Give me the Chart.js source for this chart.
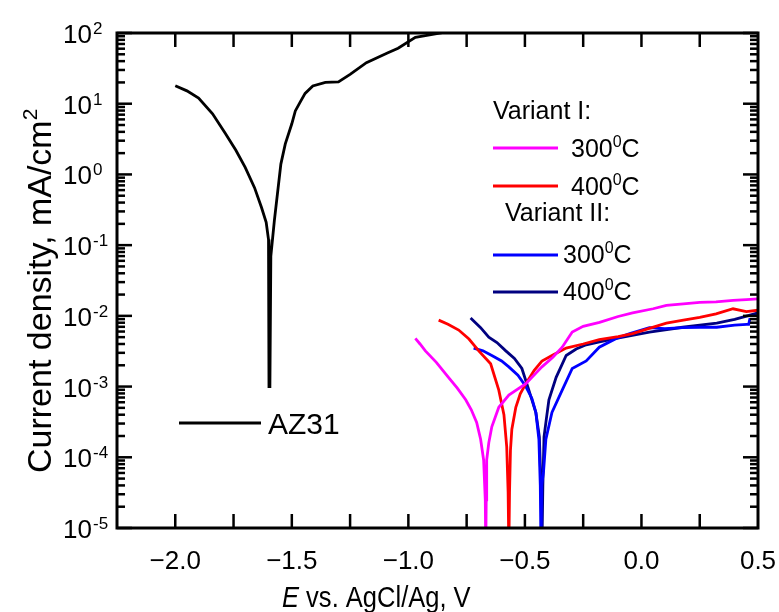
<!DOCTYPE html>
<html>
<head>
<meta charset="utf-8">
<script src="https://cdn.jsdelivr.net/npm/chart.js@4.4.0/dist/chart.umd.min.js"></script>
<style>
  body { margin: 0; background: #fff; }
  #wrap { width: 779px; height: 612px; }
</style>
</head>
<body>
<div id="wrap"><canvas id="chart" width="779" height="612"></canvas></div>
<script>
// potential, V vs AgCl/Ag  /  current density, mA/cm2
const xAz31 = [-2.0, -1.95, -1.90, -1.84, -1.785, -1.74, -1.70, -1.66, -1.63, -1.61, -1.600, -1.598, -1.594, -1.590, -1.575, -1.547, -1.528, -1.50, -1.485, -1.466, -1.443, -1.41, -1.356, -1.30, -1.25, -1.18, -1.09, -1.044, -0.97, -0.86, -0.83]
const yAz31 = [18, 15.2, 12, 7.2, 3.8, 2.2, 1.26, 0.65, 0.34, 0.21, 0.12, 0.001, 0.001, 0.07, 0.22, 1.4, 2.7, 5.2, 7.9, 10.3, 14, 17.8, 20, 20.4, 26, 38, 52, 61, 87, 100, 106]

const xV1_300 = [-0.97, -0.95, -0.927, -0.88, -0.828, -0.79, -0.754, -0.73, -0.707, -0.69, -0.677, -0.670, -0.668, -0.666, -0.664, -0.655, -0.642, -0.612, -0.569, -0.496, -0.427, -0.38, -0.34, -0.297, -0.25, -0.18, -0.10, -0.038, 0.05, 0.107, 0.18, 0.25, 0.32, 0.393, 0.45, 0.5]
const yV1_300 = [4.8e-3, 4.0e-3, 3.2e-3, 2.2e-3, 1.35e-3, 9.5e-4, 6.5e-4, 4.7e-4, 3.1e-4, 1.8e-4, 9.1e-5, 2.5e-5, 5e-6, 2.5e-5, 9.1e-5, 1.6e-4, 2.7e-4, 5.1e-4, 7.6e-4, 1.1e-3, 1.9e-3, 2.6e-3, 3.6e-3, 5.9e-3, 7.1e-3, 8.1e-3, 9.8e-3, 1.1e-2, 1.26e-2, 1.41e-2, 1.48e-2, 1.55e-2, 1.58e-2, 1.66e-2, 1.7e-2, 1.74e-2]

const xV1_400 = [-0.87, -0.83, -0.784, -0.74, -0.698, -0.647, -0.612, -0.59, -0.578, -0.572, -0.569, -0.566, -0.562, -0.556, -0.539, -0.52, -0.496, -0.46, -0.427, -0.38, -0.323, -0.25, -0.181, -0.10, -0.038, 0.03, 0.107, 0.18, 0.25, 0.32, 0.393, 0.45, 0.5]
const yV1_400 = [8.7e-3, 7.6e-3, 6.3e-3, 4.7e-3, 3.2e-3, 2.1e-3, 8.9e-4, 4.0e-4, 1.4e-4, 3.2e-5, 5e-6, 3.2e-5, 1.26e-4, 2.5e-4, 5.1e-4, 7.9e-4, 1.1e-3, 1.7e-3, 2.3e-3, 2.8e-3, 3.5e-3, 4.0e-3, 4.6e-3, 5.1e-3, 5.6e-3, 6.6e-3, 7.9e-3, 8.7e-3, 9.5e-3, 1.07e-2, 1.26e-2, 1.15e-2, 1.2e-2]

const xV2_300 = [-0.72, -0.68, -0.642, -0.60, -0.569, -0.53, -0.496, -0.47, -0.453, -0.44, -0.434, -0.431, -0.428, -0.42, -0.41, -0.384, -0.34, -0.297, -0.237, -0.181, -0.108, -0.05, 0.034, 0.10, 0.177, 0.25, 0.323, 0.40, 0.452, 0.46, 0.466]
const yV2_300 = [3.5e-3, 3.2e-3, 2.75e-3, 2.3e-3, 1.9e-3, 1.45e-3, 1.0e-3, 6.8e-4, 4.3e-4, 1.8e-4, 4.0e-5, 5e-6, 4.0e-5, 6.3e-5, 1.8e-4, 4.3e-4, 8.9e-4, 1.8e-3, 2.3e-3, 3.6e-3, 4.8e-3, 5.6e-3, 6.8e-3, 6.6e-3, 6.8e-3, 6.9e-3, 6.9e-3, 7.4e-3, 7.6e-3, 7.6e-3, 9.3e-3]

const xV2_400 = [-0.733, -0.69, -0.655, -0.62, -0.582, -0.545, -0.513, -0.483, -0.453, -0.438, -0.431, -0.427, -0.423, -0.418, -0.408, -0.397, -0.366, -0.323, -0.28, -0.237, -0.18, -0.108, 0.034, 0.177, 0.323, 0.40, 0.5]
const yV2_400 = [9.3e-3, 6.8e-3, 5.0e-3, 4.2e-3, 3.2e-3, 2.5e-3, 1.8e-3, 8.9e-4, 4.3e-4, 1.95e-4, 4.0e-5, 5e-6, 4.0e-5, 1.95e-4, 3.5e-4, 6.5e-4, 1.35e-3, 2.75e-3, 3.4e-3, 3.9e-3, 4.3e-3, 4.8e-3, 5.9e-3, 6.9e-3, 7.9e-3, 8.9e-3, 1.1e-2]

const xTicks = [-2.0, -1.75, -1.5, -1.25, -1.0, -0.75, -0.5, -0.25, 0.0, 0.25]
const xLabels = ["\u22122.0", "\u22121.5", "\u22121.0", "\u22120.5", "0.0", "0.5"]
const xLabelValues = [-2.0, -1.5, -1.0, -0.5, 0.0, 0.5]
const yDecades = [-5, -4, -3, -2, -1, 0, 1, 2]

const FONT = "'Liberation Sans', Arial, sans-serif"

function toPoints(xs, ys) {
    return xs.map((v, i) => ({ x: v, y: ys[i] }))
}

function series(label, xs, ys, color) {
    return {
        label: label,
        data: toPoints(xs, ys),
        borderColor: color,
        backgroundColor: color,
        borderWidth: 2.8,
        pointRadius: 0,
        showLine: true,
        tension: 0
    }
}

// text with a raised small part, e.g. 300^0 C
function supText(ctx, x, y, parts, size) {
    let cx = x
    parts.forEach(([txt, sup]) => {
        ctx.font = `${sup ? Math.round(size * 0.62) : size}px ${FONT}`
        ctx.fillText(txt, cx, sup ? y - size * 0.42 : y)
        cx += ctx.measureText(txt).width
    })
    return cx
}

const axesPlugin = {
    id: "axesPlugin",
    afterDatasetsDraw(chart) {
        const { ctx, chartArea: a, scales: { x, y } } = chart
        ctx.save()
        ctx.strokeStyle = "#000"
        ctx.fillStyle = "#000"

        const seg = (x1, y1, x2, y2) => {
            ctx.beginPath(); ctx.moveTo(x1, y1); ctx.lineTo(x2, y2); ctx.stroke()
        }

        // ticks
        ctx.lineWidth = 2.5
        xTicks.forEach(v => {
            const px = x.getPixelForValue(v)
            seg(px, a.bottom, px, a.bottom - 14)
            seg(px, a.top, px, a.top + 14)
        })
        yDecades.forEach(e => {
            const py = y.getPixelForValue(Math.pow(10, e))
            seg(a.left, py, a.left + 15, py)
            seg(a.right, py, a.right - 15, py)
            if (e < 2) {
                for (let k = 2; k < 10; k++) {
                    const pm = y.getPixelForValue(k * Math.pow(10, e))
                    seg(a.left, pm, a.left + 8, pm)
                    seg(a.right, pm, a.right - 8, pm)
                }
            }
        })

        ctx.lineWidth = 3
        ctx.strokeRect(a.left, a.top, a.right - a.left, a.bottom - a.top)

        // tick labels
        ctx.textBaseline = "alphabetic"
        ctx.textAlign = "center"
        ctx.font = `26px ${FONT}`
        xLabelValues.forEach((v, i) => {
            ctx.fillText(xLabels[i], x.getPixelForValue(v), 569)
        })
        yDecades.forEach(e => {
            const py = y.getPixelForValue(Math.pow(10, e))
            ctx.textAlign = "right"
            ctx.font = `26px ${FONT}`
            ctx.fillText("10", 92, py + 10)
            ctx.textAlign = "left"
            ctx.font = `17px ${FONT}`
            ctx.fillText(String(e), 93, py + 1)
        })

        // axis titles (slightly narrowed, like the original)
        ctx.textAlign = "left"
        ctx.save()
        ctx.translate(282, 607)
        ctx.scale(0.88, 1)
        ctx.font = `italic 29px ${FONT}`
        ctx.fillText("E", 0, 0)
        let w = ctx.measureText("E").width
        ctx.font = `29px ${FONT}`
        ctx.fillText(" vs. AgCl/Ag, V", w, 0)
        ctx.restore()

        ctx.save()
        ctx.translate(51, 473)
        ctx.rotate(-Math.PI / 2)
        supText(ctx, 0, 0, [["Current density, mA/cm", false], ["2", true]], 34)
        ctx.restore()

        // legend
        const ds = chart.data.datasets
        const legendLine = (x1, x2, yy, color) => {
            ctx.strokeStyle = color
            ctx.lineWidth = 3
            seg(x1, yy, x2, yy)
        }
        ctx.fillStyle = "#000"
        ctx.font = `25px ${FONT}`
        ctx.fillText("Variant I:", 493, 119)
        legendLine(493, 558, 148, ds[1].borderColor)
        supText(ctx, 571, 157, [["300", false], ["0", true], ["C", false]], 25)
        legendLine(493, 558, 186, ds[2].borderColor)
        supText(ctx, 571, 195, [["400", false], ["0", true], ["C", false]], 25)
        ctx.font = `25px ${FONT}`
        ctx.fillText("Variant II:", 505, 221)
        legendLine(493, 558, 255, ds[3].borderColor)
        supText(ctx, 563, 263, [["300", false], ["0", true], ["C", false]], 25)
        legendLine(493, 558, 292, ds[4].borderColor)
        supText(ctx, 563, 300, [["400", false], ["0", true], ["C", false]], 25)

        legendLine(179, 261, 423, ds[0].borderColor)
        ctx.font = `30px ${FONT}`
        ctx.fillText(ds[0].label, 268, 434)

        ctx.restore()
    }
}

new Chart(document.querySelector("#chart"), {
    type: "scatter",
    data: {
        datasets: [
            series("AZ31", xAz31, yAz31, "#000000"),
            series("Variant I 300", xV1_300, yV1_300, "#ff00ff"),
            series("Variant I 400", xV1_400, yV1_400, "#ff0000"),
            series("Variant II 300", xV2_300, yV2_300, "#0000ff"),
            series("Variant II 400", xV2_400, yV2_400, "#000080")
        ]
    },
    options: {
        responsive: false,
        animation: false,
        layout: { padding: { left: 117, right: 21, top: 33, bottom: 84 } },
        plugins: { legend: { display: false }, tooltip: { enabled: false } },
        scales: {
            x: { type: "linear", min: -2.25, max: 0.5, display: false },
            y: { type: "logarithmic", min: 1e-5, max: 100, display: false }
        }
    },
    plugins: [axesPlugin]
})
</script>
</body>
</html>
